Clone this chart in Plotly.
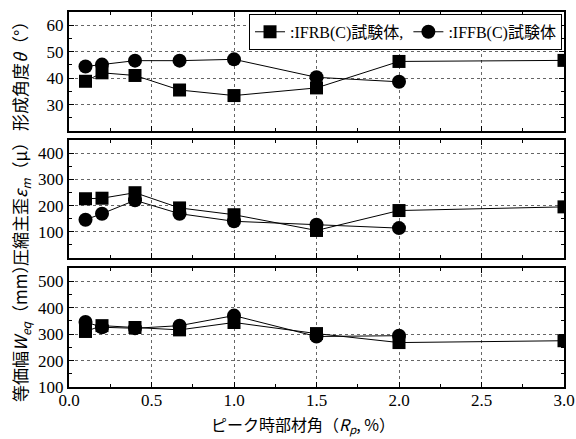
import plotly.graph_objects as go

# Data
x_rb = [0.1, 0.2, 0.4, 0.67, 1.0, 1.5, 2.0, 3.0]
x_fb = [0.1, 0.2, 0.4, 0.67, 1.0, 1.5, 2.0]

theta_rb = [38.8, 42.0, 41.0, 35.5, 33.4, 36.3, 46.3, 46.7]
theta_fb = [44.4, 45.1, 46.6, 46.6, 47.1, 40.3, 38.6]

eps_rb = [226, 228, 249, 191, 165, 105, 181, 195]
eps_fb = [146, 169, 220, 169, 140, 127, 114]

w_rb = [310, 332, 325, 316, 344, 302, 268, 275]
w_fb = [346, 326, 322, 332, 370, 291, 294]

name_rb = ":IFRB(C)試験体,"
name_fb = ":IFFB(C)試験体"

serif = "'Liberation Serif', 'DejaVu Serif', serif"
serif_jp = "'Liberation Serif', 'DejaVu Serif', 'Noto Sans CJK JP', serif"
jp = "'Noto Sans CJK JP'"

fig = go.Figure()

panels = [
    ("y", theta_rb, theta_fb, True),
    ("y2", eps_rb, eps_fb, False),
    ("y3", w_rb, w_fb, False),
]
xmap = {"y": "x", "y2": "x2", "y3": "x3"}
for yax, rb, fb, leg in panels:
    fig.add_trace(go.Scatter(
        x=x_rb, y=rb, mode="lines+markers", name=name_rb,
        xaxis=xmap[yax], yaxis=yax, showlegend=leg,
        line=dict(color="black", width=1),
        marker=dict(symbol="square", size=13, color="black"),
    ))
    fig.add_trace(go.Scatter(
        x=x_fb, y=fb, mode="lines+markers", name=name_fb,
        xaxis=xmap[yax], yaxis=yax, showlegend=leg,
        line=dict(color="black", width=1),
        marker=dict(symbol="circle", size=14, color="black"),
    ))

H_TOP, H_BOT = 12, 52
plot_h = 439 - H_TOP - H_BOT
def dom(top_px, bot_px):
    return [(387 - bot_px) / plot_h, (387 - top_px) / plot_h]

axis_common = dict(
    showline=True, linewidth=2, linecolor="black", mirror="allticks",
    ticks="inside", ticklen=5, tickwidth=1, tickcolor="black",
    showgrid=True, gridcolor="#666", gridwidth=1, griddash="dot",
    zeroline=False, automargin=False,
    tickfont=dict(family=serif, size=17, color="black"),
)

xcommon = dict(axis_common, range=[0, 3], tickvals=[0, 0.5, 1.0, 1.5, 2.0, 2.5, 3.0],
               minor=dict(tickvals=[0.25, 0.75, 1.25, 1.75, 2.25, 2.75], ticks="inside",
                          ticklen=3, tickcolor="black", showgrid=False))

fig.update_layout(
    width=576, height=439,
    margin=dict(l=69, r=12, t=H_TOP, b=H_BOT, autoexpand=False),
    paper_bgcolor="white", plot_bgcolor="white",
    showlegend=True,
    legend=dict(
        orientation="h", x=0.996, y=0.995, xanchor="right", yanchor="top",
        xref="paper", yref="paper",
        bgcolor="white", bordercolor="black", borderwidth=1,
        font=dict(family=serif_jp, size=16, color="black"),
        itemwidth=30, tracegroupgap=0,
    ),
    xaxis=dict(xcommon, anchor="y", matches="x3", showticklabels=False),
    xaxis2=dict(xcommon, anchor="y2", matches="x3", showticklabels=False),
    xaxis3=dict(xcommon, anchor="y3", tickformat=".1f", showticklabels=True,
                ticklabelstandoff=-3),
    yaxis=dict(axis_common, domain=dom(12, 131), range=[20, 65], tickvals=[30, 40, 50, 60],
               minor=dict(tickvals=[25, 35, 45, 55], ticks="inside", ticklen=3, tickcolor="black", showgrid=False)),
    yaxis2=dict(axis_common, domain=dom(140, 258), range=[0, 450], tickvals=[100, 200, 300, 400],
                minor=dict(tickvals=[50, 150, 250, 350], ticks="inside", ticklen=3, tickcolor="black", showgrid=False)),
    yaxis3=dict(axis_common, domain=dom(268, 387), range=[100, 550], tickvals=[100, 200, 300, 400, 500],
                minor=dict(tickvals=[150, 250, 350, 450], ticks="inside", ticklen=3, tickcolor="black", showgrid=False)),
)

def ypx(p):
    return (387 - p) / plot_h
def xpx(p):
    return (p - 69) / 495

ann_font = dict(family=jp, size=17, color="black")
fig.add_annotation(text="形成角度<i>θ</i>（°）", xref="paper", yref="paper",
                   x=xpx(19), y=ypx(72), textangle=-90, showarrow=False,
                   xanchor="center", yanchor="middle", font=ann_font)
fig.add_annotation(text="圧縮主歪<i>ε<sub>m</sub></i>（μ）", xref="paper", yref="paper",
                   x=xpx(20), y=ypx(200), textangle=-90, showarrow=False,
                   xanchor="center", yanchor="middle", font=ann_font)
fig.add_annotation(text="等価幅<i>W<sub>eq</sub></i>（mm）", xref="paper", yref="paper",
                   x=xpx(20), y=ypx(330), textangle=-90, showarrow=False,
                   xanchor="center", yanchor="middle", font=ann_font)
fig.add_annotation(text="ピーク時部材角（<i>R<sub>p</sub></i>, %）", xref="paper", yref="paper",
                   x=xpx(303), y=ypx(424), showarrow=False,
                   xanchor="center", yanchor="middle", font=dict(family=jp, size=16, color="black"))

fig.write_html("out.html", config={"displayModeBar": False},
               post_script="document.body.style.margin='0';document.body.style.padding='0';")
